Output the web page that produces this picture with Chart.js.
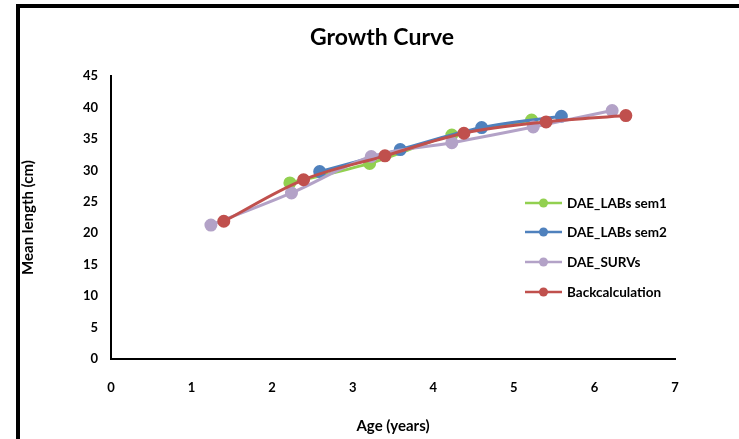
<!DOCTYPE html>
<html>
<head>
<meta charset="utf-8">
<script src="https://cdn.jsdelivr.net/npm/chart.js@4.4.1/dist/chart.umd.min.js"></script>
<style>
  html, body { margin: 0; padding: 0; background: #fff; }
  #frame { position: absolute; left: 16px; top: 4px; width: 800px; height: 500px;
           border-left: 4px solid #000; border-top: 4px solid #000; }
  #wrap { position: absolute; left: 0; top: 0; width: 739px; height: 439px; }
</style>
</head>
<body>
<div id="frame"></div>
<div id="wrap"><canvas id="chart" width="739" height="439"></canvas></div>
<script>
  const seriesNames = ['DAE_LABs sem1', 'DAE_LABs sem2', 'DAE_SURVs', 'Backcalculation'];
  const seriesColors = ['#92D050', '#4F81BD', '#B3A2C7', '#C0504D'];

  const sem1Age = [2.22, 3.21, 4.23, 5.22];
  const sem1Len = [28.0, 31.1, 35.6, 38.0];
  const sem2Age = [2.59, 3.59, 4.60, 5.59];
  const sem2Len = [29.8, 33.3, 36.8, 38.6];
  const survAge = [1.24, 2.24, 3.23, 4.23, 5.24, 6.22];
  const survLen = [21.3, 26.4, 32.2, 34.4, 36.9, 39.5];
  const backAge = [1.40, 2.39, 3.40, 4.38, 5.40, 6.39];
  const backLen = [21.9, 28.5, 32.3, 35.9, 37.7, 38.7];

  const xTicks = [0, 1, 2, 3, 4, 5, 6, 7];
  const yTicks = [0, 5, 10, 15, 20, 25, 30, 35, 40, 45];

  const FONT = 'Lato, "Open Sans", sans-serif';

  const points = (xs, ys) => xs.map((x, i) => ({ x, y: ys[i] }));
  const allAges = [sem1Age, sem2Age, survAge, backAge];
  const allLens = [sem1Len, sem2Len, survLen, backLen];
  const drawOrder = [3, 2, 1, 0];

  const datasets = seriesNames.map((name, i) => ({
    label: name,
    data: points(allAges[i], allLens[i]),
    showLine: true,
    borderColor: seriesColors[i],
    backgroundColor: seriesColors[i],
    pointBackgroundColor: seriesColors[i],
    pointBorderColor: seriesColors[i],
    borderWidth: 3,
    pointRadius: 5,
    tension: 0.35,
    order: drawOrder[i]
  }));

  // legend sits inside the plot area, so draw it by hand
  const insideLegend = {
    id: 'insideLegend',
    afterDraw(chart) {
      const ctx = chart.ctx;
      const rows = [203, 232, 262, 292];
      ctx.save();
      chart.data.datasets.forEach((ds, i) => {
        const y = rows[i];
        ctx.strokeStyle = ds.borderColor;
        ctx.lineWidth = 2.5;
        ctx.beginPath();
        ctx.moveTo(525, y);
        ctx.lineTo(562, y);
        ctx.stroke();
        ctx.fillStyle = ds.borderColor;
        ctx.beginPath();
        ctx.arc(543.5, y, 4.5, 0, Math.PI * 2);
        ctx.fill();
        ctx.fillStyle = '#000';
        ctx.font = 'bold 13.5px ' + FONT;
        ctx.textBaseline = 'middle';
        ctx.textAlign = 'left';
        ctx.fillText(ds.label, 567, y + 1);
      });
      ctx.restore();
    }
  };

  new Chart(document.getElementById('chart'), {
    type: 'scatter',
    data: { datasets },
    options: {
      responsive: false,
      animation: false,
      layout: { padding: { left: 25, right: 0, top: 0, bottom: 0 } },
      plugins: {
        legend: { display: false },
        tooltip: { enabled: false },
        title: {
          display: true,
          text: 'Growth Curve',
          color: '#000',
          font: { family: FONT, size: 23, weight: 'bold' },
          padding: { top: 24, bottom: 24.4 }
        }
      },
      scales: {
        x: {
          type: 'linear',
          min: 0, max: 7,
          afterBuildTicks: (s) => { s.ticks = xTicks.map((v) => ({ value: v })); },
          afterFit: (s) => { s.height = 80; },
          grid: { display: false, drawTicks: false },
          border: { display: true, color: '#000', width: 2 },
          ticks: { color: '#000', padding: 21, font: { family: FONT, size: 13, weight: 'bold' } },
          title: {
            display: true, text: 'Age (years)', color: '#000',
            font: { family: FONT, size: 15, weight: 'bold' },
            padding: { top: 0, bottom: 4 }
          }
        },
        y: {
          type: 'linear',
          min: 0, max: 45,
          afterBuildTicks: (s) => { s.ticks = yTicks.map((v) => ({ value: v })); },
          afterFit: (s) => { s.width = 86; },
          grid: { display: false, drawTicks: false },
          border: { display: true, color: '#000', width: 2 },
          ticks: { color: '#000', padding: 13, font: { family: FONT, size: 13, weight: 'bold' } },
          title: {
            display: true, text: 'Mean length (cm)', color: '#000',
            font: { family: FONT, size: 15, weight: 'bold' },
            padding: { top: -6, bottom: 0 }
          }
        },
        yRight: {
          type: 'linear',
          position: 'right',
          afterFit: (s) => { s.width = 64; },
          grid: { display: false, drawTicks: false },
          border: { display: false },
          ticks: { display: false }
        }
      }
    },
    plugins: [insideLegend]
  });
</script>
</body>
</html>
